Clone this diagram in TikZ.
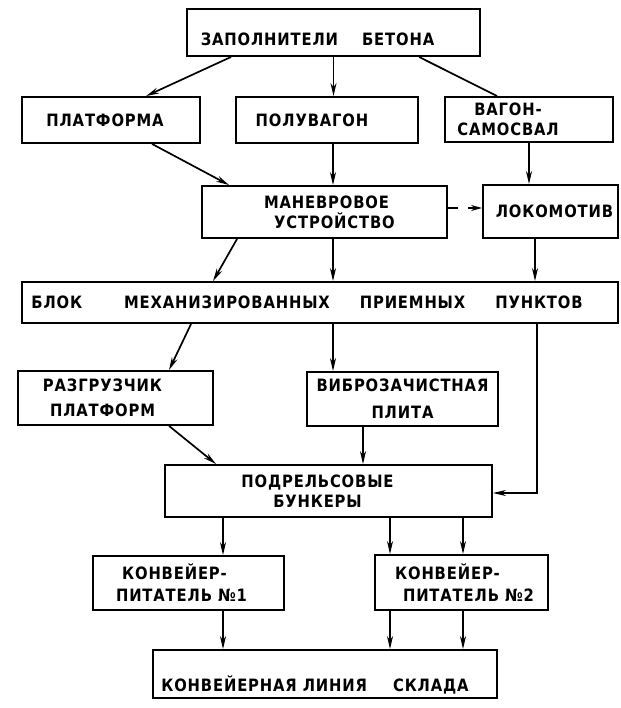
\documentclass[tikz,border=0pt]{standalone}
\usepackage{fontspec}
\setmainfont{DejaVu Sans}[LetterSpace=5,FakeStretch=0.87]
\usetikzlibrary{arrows.meta,calc}
\newcommand\upc[1]{\MakeUppercase{#1}}
\newcommand\sx[2]{\hspace*{#1}\upc{#2}\hspace*{-#1}}
\newcommand\sy[2]{\raisebox{#1}[\height][\depth]{#2}}
\begin{document}
\begin{tikzpicture}[x=1pt,y=-1pt,
  box/.style={draw, line width=1.9pt, inner sep=2pt, align=center,
    font=\bfseries\fontsize{17}{20}\selectfont},
  ln/.style={line width=1.7pt},
  arr/.style={line width=1.7pt, -{Stealth[length=13pt,width=6pt]}}]
\fill[white] (0,0) rectangle (620,708);
\useasboundingbox (0,0) rectangle (620,708);
% boxes
\node[box, minimum width=293pt, minimum height=47pt] (A) at (333.5,32.5) {\sy{-7pt}{\sx{-16pt}{Заполнители\hspace{24pt}бетона}}};
\node[box, minimum width=178pt, minimum height=46pt] (B) at (111,120) {\sx{-6pt}{Платформа}};
\node[box, minimum width=182pt, minimum height=46pt] (C) at (327,120) {\sx{-15pt}{Полувагон}};
\node[box, minimum width=168pt, minimum height=45pt] (D) at (529,119.5) {\sx{-21pt}{Вагон-}\\\sx{-21pt}{самосвал}};
\node[box, minimum width=245pt, minimum height=52pt] (E) at (324.5,212) {\sx{2pt}{Маневровое}\\\sx{10pt}{устройство}};
\node[box, minimum width=135pt, minimum height=53pt] (F) at (550.5,211.5) {\sx{4pt}{Локомотив}};
\node[box, minimum width=596pt, minimum height=41pt] (G) at (320,302.5) {\sx{-13pt}{Блок\hspace{42pt}механизированных\hspace{30pt}приемных\hspace{30pt}пунктов}};
\node[box, minimum width=195pt, minimum height=54pt] (H) at (115.5,398) {\sx{-13pt}{Разгрузчик}\\[5pt]\sx{-13pt}{платформ}};
\node[box, minimum width=191pt, minimum height=54pt] (I) at (402.5,399) {\upc{Виброзачистная}\\[7pt]\upc{плита}};
\node[box, minimum width=327pt, minimum height=52pt] (J) at (328.5,491) {\sx{-11pt}{Подрельсовые}\\\sx{-11pt}{бункеры}};
\node[box, minimum width=191pt, minimum height=54pt] (K) at (188.5,583) {\sx{-14pt}{Конвейер-}\\[2pt]\sx{-7pt}{питатель №1}};
\node[box, minimum width=173pt, minimum height=55pt] (L) at (461.5,582.5) {\sx{-14pt}{Конвейер-}\\[2pt]\sx{7pt}{питатель №2}};
\node[box, minimum width=344pt, minimum height=48pt] (M) at (325,674) {\sy{-11pt}{\sx{-10pt}{Конвейерная линия\hspace{26pt}склада}}};
% connectors
\draw[arr] ([xshift=45pt]A.south west) -- ([xshift=125pt]B.north west);
\draw[arr] (A.south) -- (A.south |- C.north);
\draw[ln] ([xshift=233pt]A.south west) -- ([xshift=53pt]D.north west);
\draw[arr] ([xshift=131pt]B.south west) -- ([xshift=28pt]E.north west);
\draw[arr] ([xshift=6pt]C.south) -- ([xshift=6pt]C.south |- E.north);
\draw[arr] (D.south) -- (D.south |- F.north);
\draw[line width=1.7pt, dash pattern=on 10pt off 10pt, -{Stealth[length=11pt,width=6pt]}] ([yshift=4pt]E.east) -- ([yshift=3.5pt]F.west);
\draw[arr] ([xshift=36pt]E.south west) -- ([xshift=192pt]G.north west);
\draw[arr] ([xshift=8.5pt]E.south) -- ([xshift=8.5pt]E.south |- G.north);
\draw[arr] ([xshift=-15.5pt]F.south) -- ([xshift=-15.5pt]F.south |- G.north);
\draw[arr] ([xshift=170pt]G.south west) -- ([xshift=152pt]H.north west);
\draw[arr] ([xshift=-69.5pt]I.north |- G.south) -- ([xshift=-69.5pt]I.north);
\draw[arr] ([xshift=-13.5pt]F.south |- G.south) |- ([yshift=-2pt]J.east);
\draw[arr] ([xshift=152pt]H.south west) -- ([xshift=52pt]J.north west);
\draw[arr] ([xshift=-39.5pt]I.south) -- ([xshift=-39.5pt]I.south |- J.north);
\draw[arr] ([xshift=34.5pt]K.north |- J.south) -- ([xshift=34.5pt]K.north);
\draw[arr] ([xshift=-71.5pt]L.north |- J.south) -- ([xshift=-71.5pt]L.north);
\draw[arr] ([xshift=1.5pt]L.north |- J.south) -- ([xshift=1.5pt]L.north);
\draw[arr] ([xshift=34.5pt]K.south) -- ([xshift=34.5pt]K.south |- M.north);
\draw[arr] ([xshift=-71.5pt]L.south) -- ([xshift=-71.5pt]L.south |- M.north);
\draw[arr] ([xshift=1.5pt]L.south) -- ([xshift=1.5pt]L.south |- M.north);
\end{tikzpicture}
\end{document}
